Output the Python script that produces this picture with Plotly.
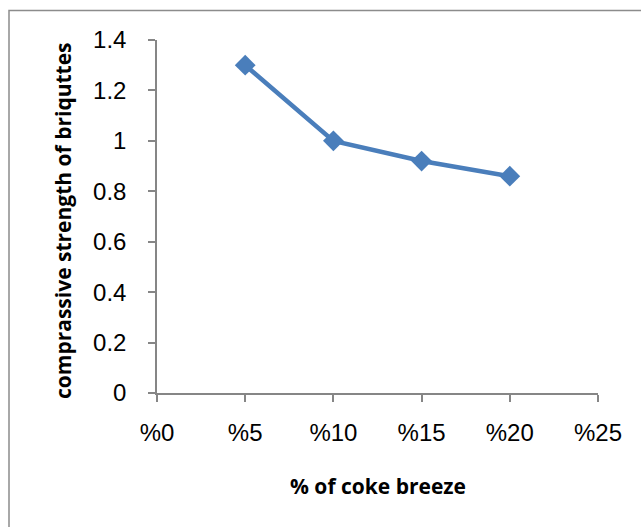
import plotly.graph_objects as go

# Coke breeze content (%) and compressive strength of briquettes
coke_breeze = [5, 10, 15, 20]
strength = [1.3, 1.0, 0.92, 0.86]

x_tick_vals = [0, 5, 10, 15, 20, 25]
x_tick_text = ["%0", "%5", "%10", "%15", "%20", "%25"]
y_tick_vals = [0, 0.2, 0.4, 0.6, 0.8, 1.0, 1.2, 1.4]
y_tick_text = ["0", "0.2", "0.4", "0.6", "0.8", "1", "1.2", "1.4"]

x_title = "% of coke breeze"
y_title = "comprassive strength of briquttes"

line_color = "#4A7EBB"
axis_color = "#868686"
tick_font = dict(family="Liberation Sans, Arial", size=24, color="#000000")
title_font = dict(family="Open Sans", size=21, color="#000000")

fig = go.Figure()
fig.add_trace(go.Scatter(
    x=coke_breeze,
    y=strength,
    mode="lines+markers",
    line=dict(color=line_color, width=4.5),
    marker=dict(symbol="diamond", size=16, color=line_color),
    showlegend=False,
))

W, H = 641, 527
L, R, T, B = 157, 43, 40, 134

axis_common = dict(
    showgrid=False,
    zeroline=False,
    showline=True,
    linecolor=axis_color,
    linewidth=1.5,
    ticks="outside",
    ticklen=7,
    tickwidth=1.5,
    tickcolor=axis_color,
    tickfont=tick_font,
    fixedrange=True,
)

fig.update_layout(
    width=W,
    height=H,
    margin=dict(l=L, r=R, t=T, b=B, pad=0),
    paper_bgcolor="white",
    plot_bgcolor="white",
    xaxis=dict(range=[0, 25], tickvals=x_tick_vals, ticktext=x_tick_text,
               ticklabelstandoff=10, **axis_common),
    yaxis=dict(range=[0, 1.4], tickvals=y_tick_vals, ticktext=y_tick_text,
               ticklabelstandoff=17, **axis_common),
)

pw = W - L - R
ph = H - T - B

# Axis titles
fig.add_annotation(
    text="<b>" + x_title + "</b>", xref="paper", yref="paper",
    x=0.5, y=(H - B - 486) / ph, xanchor="center", yanchor="middle",
    showarrow=False, font=title_font,
)
fig.add_annotation(
    text="<b>" + y_title + "</b>", xref="paper", yref="paper",
    x=(63 - L) / pw, y=(H - B - 221) / ph, xanchor="center", yanchor="middle",
    textangle=-90, showarrow=False, font=title_font,
)

# Chart area frame
fig.add_shape(
    type="rect", xref="paper", yref="paper",
    x0=(9 - L) / pw, x1=(W + 20 - L) / pw,
    y0=(H - B - (H + 20)) / ph, y1=(H - B - 10.5) / ph,
    line=dict(color="#8C8C8C", width=1.5), layer="below",
)

fig.write_html("out.html")
